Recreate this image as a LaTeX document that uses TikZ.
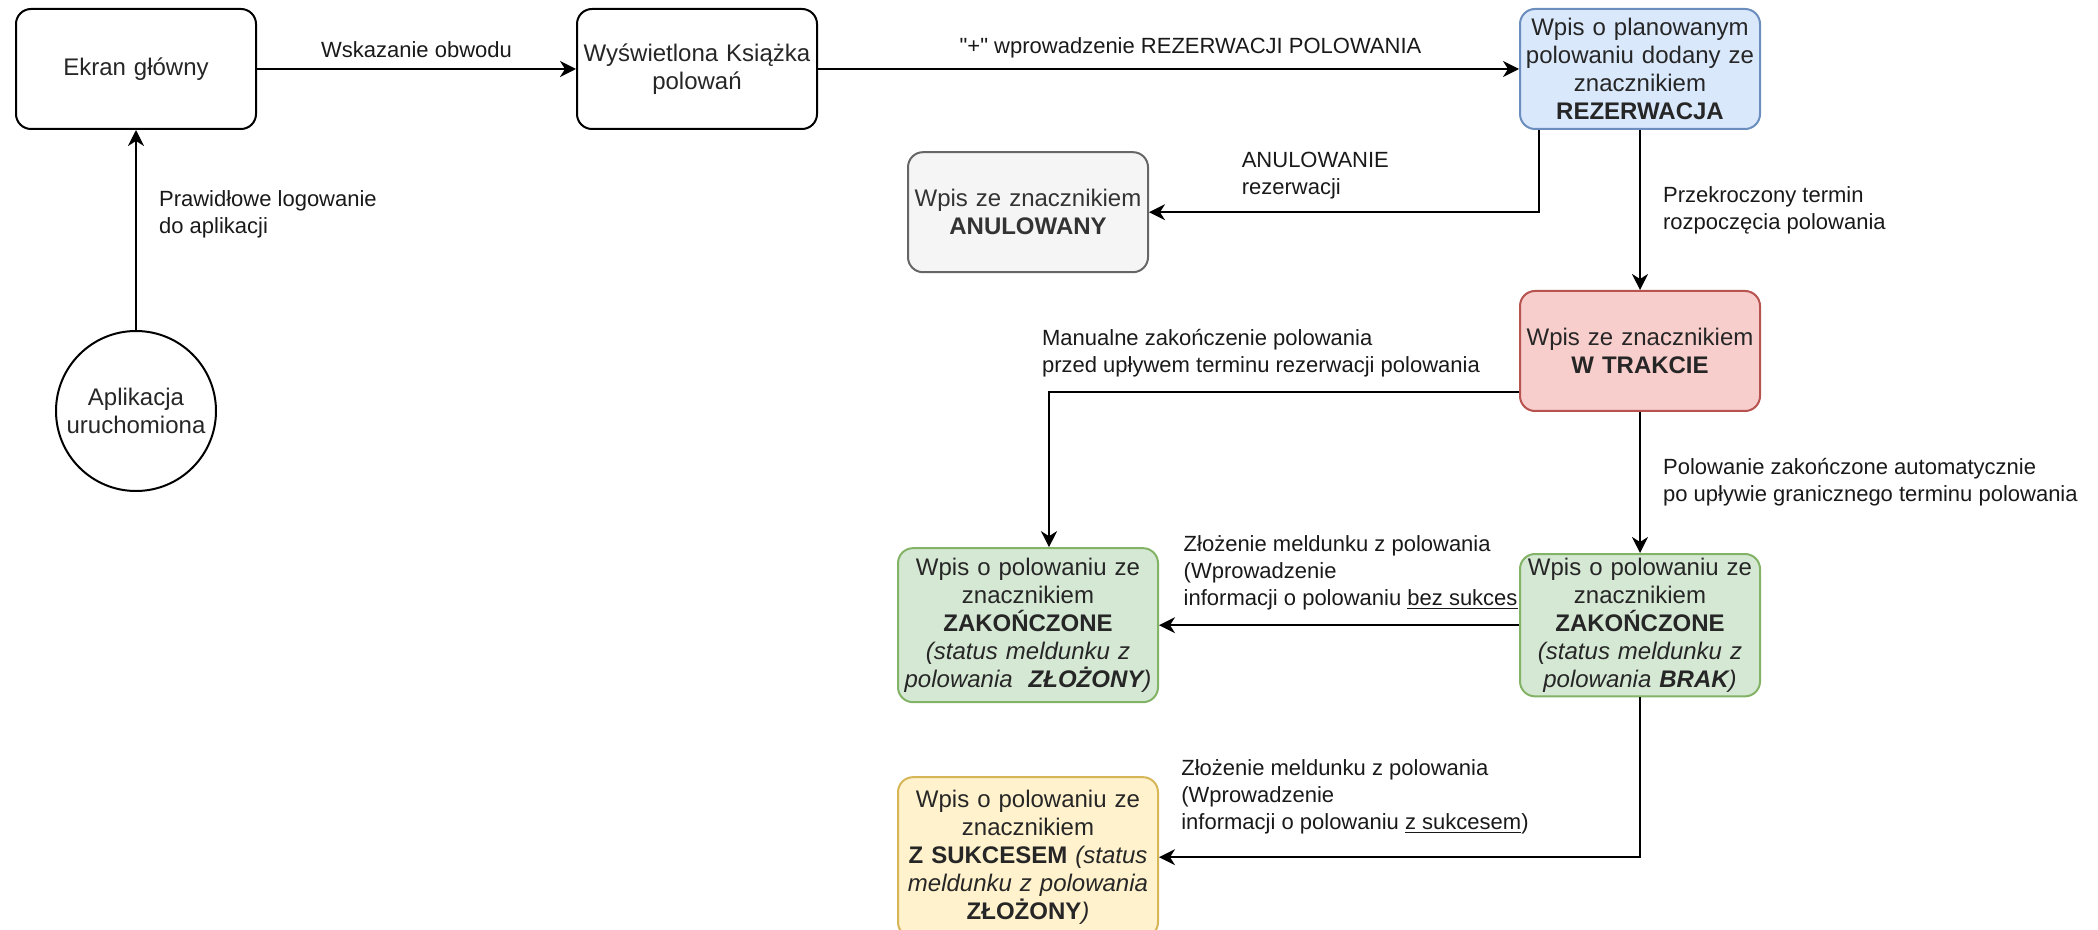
\documentclass[tikz,border=0pt]{standalone}
\usepackage{fontspec}
\setmainfont{Liberation Sans}
\usepackage{tikz}
\usetikzlibrary{positioning,arrows.meta}

\definecolor{resfill}{HTML}{DAE8FC}
\definecolor{resdraw}{HTML}{6C8EBF}
\definecolor{cancelfill}{HTML}{F5F5F5}
\definecolor{canceldraw}{HTML}{666666}
\definecolor{canceltext}{HTML}{333333}
\definecolor{activefill}{HTML}{F8CECC}
\definecolor{activedraw}{HTML}{B85450}
\definecolor{donefill}{HTML}{D5E8D4}
\definecolor{donedraw}{HTML}{82B366}
\definecolor{succfill}{HTML}{FFF2CC}
\definecolor{succdraw}{HTML}{D6B656}

\begin{document}
\begin{tikzpicture}[
    x=0.5pt, y=-0.5pt,
    statenode/.style={rectangle, rounded corners=7.5pt, draw=black, fill=white, line width=1pt,
        minimum width=120pt, minimum height=60pt, text width=116pt, inner sep=2pt, align=center,
        text=black!85, font=\fontsize{12}{14}\selectfont},
    startnode/.style={circle, draw=black, fill=white, line width=1pt, minimum size=80pt,
        inner sep=0pt, align=center, text=black!85, font=\fontsize{12}{14}\selectfont},
    flowlabel/.style={inner sep=1pt, align=left, text=black!90, font=\fontsize{11}{13.5}\selectfont},
    flowline/.style={->, >={Stealth[length=8pt, width=8pt, inset=2.5pt]}, line width=1.1pt}
    ]
        \useasboundingbox (0,0) rectangle (2098,930);

        %Nodes
        \node[statenode]
            (mHome)       at (136,69)                 {Ekran główny};
        \node[statenode]
            (mBook)       [right=159.5pt of mHome]    {Wyświetlona Książka\\polowań};
        \node[statenode, fill=resfill, draw=resdraw]
            (mRes)        [right=350.5pt of mBook]    {Wpis o planowanym\\polowaniu dodany ze\\znacznikiem\\\textbf{REZERWACJA}};
        \node[startnode]
            (mApp)        [below=100pt of mHome]      {Aplikacja\\uruchomiona};
        \node[statenode, fill=activefill, draw=activedraw]
            (mActive)     [below=80pt of mRes]        {Wpis ze znacznikiem\\\textbf{W TRAKCIE}};
        \node[statenode, fill=donefill, draw=donedraw, minimum height=70pt]
            (mDoneNone)   [below=70.5pt of mActive]   {Wpis o polowaniu ze\\znacznikiem\\\textbf{ZAKOŃCZONE}\\\textit{(status meldunku z}\\\textit{polowania \textbf{BRAK})}};
        \node[statenode, fill=donefill, draw=donedraw, minimum width=130pt, text width=126pt, minimum height=77pt]
            (mDoneFiled)  [left=180pt of mDoneNone]   {Wpis o polowaniu ze\\znacznikiem\\\textbf{ZAKOŃCZONE}\\\textit{(status meldunku z}\\\textit{polowania\ \ \textbf{ZŁOŻONY})}};
        \node[statenode, fill=cancelfill, draw=canceldraw, text=canceltext]
            (mCancel)     [above=137pt of mDoneFiled] {Wpis ze znacznikiem\\\textbf{ANULOWANY}};
        \node[statenode, fill=succfill, draw=succdraw, minimum width=130pt, text width=126pt, minimum height=80pt]
            (mSuccess)    [below=36.5pt of mDoneFiled] {Wpis o polowaniu ze\\znacznikiem\\\textbf{Z SUKCESEM} \textit{(status}\\\textit{meldunku z polowania}\\\textbf{ZŁOŻONY}\textit{)}};

        %Lines
        \draw[flowline]
            (mApp) -- node[flowlabel, pos=0.58, right=10pt] {Prawidłowe logowanie\\do aplikacji} (mHome);
        \draw[flowline]
            (mHome) -- node[flowlabel, above=4pt] {Wskazanie obwodu} (mBook);
        \draw[flowline]
            (mBook) -- node[flowlabel, above=4pt, xshift=11pt] {\textquotedbl+\textquotedbl\ wprowadzenie REZERWACJI POLOWANIA} (mRes);
        \draw[flowline]
            ([xshift=10pt]mRes.south west) |- node[flowlabel, pos=0.885, anchor=south west, yshift=5pt] {ANULOWANIE\\rezerwacji} (mCancel);
        \draw[flowline]
            (mRes) -- node[flowlabel, right=10pt] {Przekroczony termin\\rozpoczęcia polowania} (mActive);
        \draw[flowline]
            ([yshift=10pt]mActive.south west) -| node[flowlabel, pos=0.5, anchor=south west, xshift=-5pt, yshift=6pt] {Manualne zakończenie polowania\\przed upływem terminu rezerwacji polowania} ([xshift=10.5pt]mDoneFiled.north);
        \draw[flowline]
            (mActive) -- node[flowlabel, right=10pt] {Polowanie zakończone automatycznie\\po upływie granicznego terminu polowania} (mDoneNone);
        \draw[flowline]
            (mDoneNone) -- node[flowlabel, pos=0.94, anchor=south west, yshift=6pt] {Złożenie meldunku z polowania\\(Wprowadzenie\\informacji o polowaniu \underline{bez sukces}} (mDoneFiled);
        \draw[flowline]
            (mDoneNone) |- node[flowlabel, pos=0.98, anchor=south west, yshift=10pt] {Złożenie meldunku z polowania\\(Wprowadzenie\\informacji o polowaniu \underline{z sukcesem})} (mSuccess);
    \end{tikzpicture}
\end{document}
